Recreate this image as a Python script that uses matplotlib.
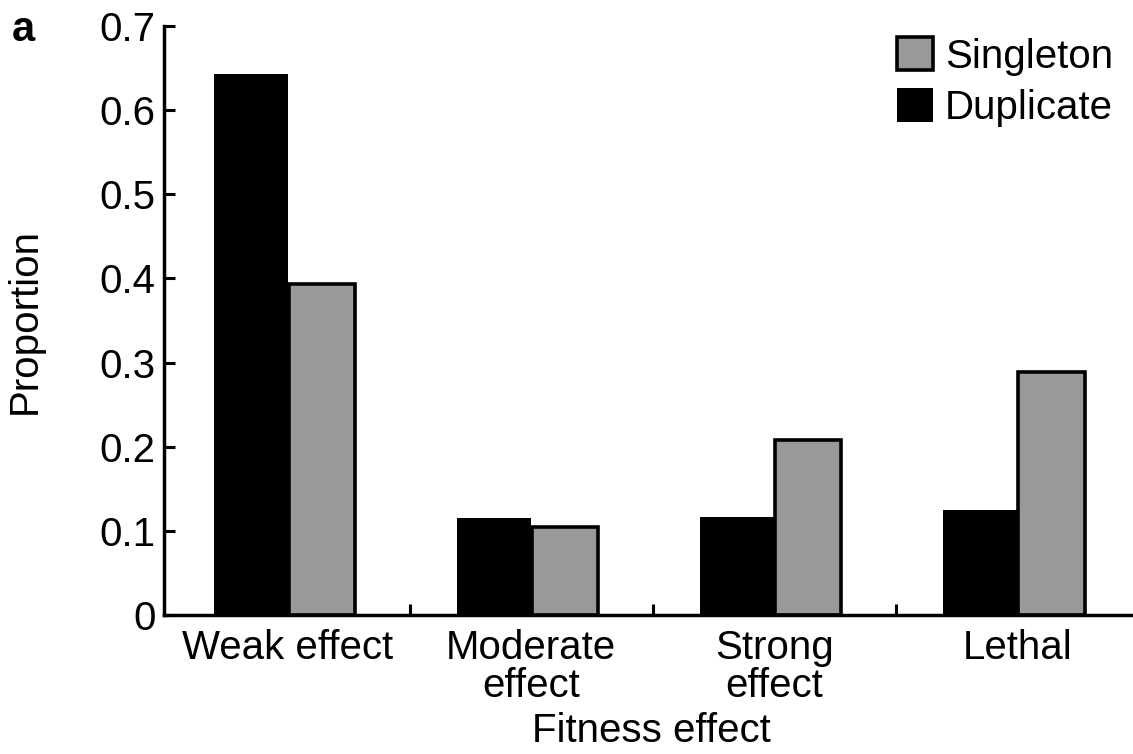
import matplotlib
matplotlib.use("Agg")
import matplotlib.pyplot as plt
import numpy as np

categories = ["Weak effect", "Moderate\neffect", "Strong\neffect", "Lethal"]
duplicate = [0.643, 0.115, 0.116, 0.125]
singleton = [0.393, 0.104, 0.208, 0.289]
yticks = [0, 0.1, 0.2, 0.3, 0.4, 0.5, 0.6, 0.7]
yticklabels = ["0", "0.1", "0.2", "0.3", "0.4", "0.5", "0.6", "0.7"]

plt.rcParams['font.family'] = ['Liberation Sans', 'DejaVu Sans']
FS = 29

fig = plt.figure(figsize=(11.33, 7.54), dpi=100)
ax = fig.add_axes([164/1133, 139/754, 975/1133, 589/754])

x = np.arange(len(categories))
ax.bar(x, duplicate, width=-0.305, align='edge', color='black', edgecolor='black',
       linewidth=0, label='Duplicate', zorder=2)
ax.bar(x + 0.004, singleton, width=0.272, align='edge', color='#999999', edgecolor='black',
       linewidth=2.6, label='Singleton', zorder=2)

ax.set_xlim(-0.51, 3.5)
ax.set_ylim(0, 0.7)
ax.set_yticks(yticks)
ax.set_yticklabels(yticklabels, fontsize=FS)
ax.set_xticks([0.5, 1.5, 2.5])
ax.set_xticklabels([])
ax.set_xticks(x, minor=True)
ax.set_xticklabels(categories, minor=True, fontsize=FS, linespacing=1.02)
ax.tick_params(axis='x', which='minor', length=0, pad=10)
ax.tick_params(axis='both', which='major', direction='in', length=8, width=2.2)
ax.tick_params(axis='y', pad=6)

for s in ['top', 'right']:
    ax.spines[s].set_visible(False)
for s in ['left', 'bottom']:
    ax.spines[s].set_linewidth(2.5)

ax.set_ylabel("Proportion", fontsize=FS, labelpad=40)
ax.set_xlabel("Fitness effect", fontsize=FS, labelpad=5)

handles, labels = ax.get_legend_handles_labels()
leg = ax.legend(handles[::-1], labels[::-1], loc='upper right',
                bbox_to_anchor=(1113/1133, 1 - 37/754), bbox_transform=fig.transFigure,
                frameon=False, fontsize=FS, handlelength=0.9, handleheight=0.9,
                handletextpad=0.3, labelspacing=0.32, borderpad=0, borderaxespad=0)

fig.text(12/1133, 1 - 30/754, "a", fontsize=30, fontweight='bold', va='center', ha='left')

fig.savefig("out.png", dpi=100)
